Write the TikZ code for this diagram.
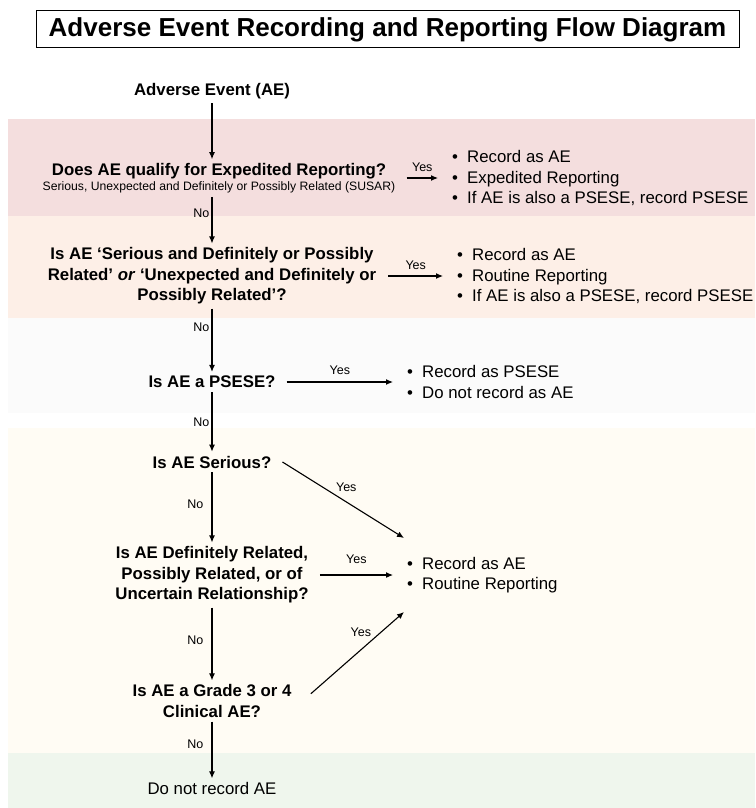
\documentclass[tikz,border=0pt]{standalone}
\usepackage{fontspec}
\setmainfont{Liberation Sans}
\usetikzlibrary{arrows.meta}
\definecolor{bandred}{RGB}{244,222,222}
\definecolor{bandorange}{RGB}{253,239,231}
\definecolor{bandgrey}{RGB}{251,251,251}
\definecolor{bandcream}{RGB}{255,252,244}
\definecolor{bandgreen}{RGB}{239,246,237}
\newcommand{\titlefont}{\fontsize{26}{30}\selectfont\bfseries}
\newcommand{\askfont}{\fontsize{16.8}{20.5}\selectfont\bfseries}
\newcommand{\outfont}{\fontsize{16.8}{20.5}\selectfont}
\newcommand{\subfont}{\fontsize{12.2}{14}\selectfont}
\newcommand{\tagfont}{\fontsize{12.5}{14}\selectfont}
\newcommand{\itm}{\makebox[15pt][l]{\textbullet}}

\begin{document}
\begin{tikzpicture}[x=1pt,y=-1pt,
  ask/.style={font=\askfont,align=center,inner xsep=11pt,inner ysep=4pt},
  result/.style={font=\outfont,align=left,anchor=west,inner xsep=14pt,inner ysep=2pt},
  tag/.style={font=\tagfont,inner sep=2pt},
  arr/.style={-{Latex[length=7pt,width=6pt]},line width=1.1pt}]
\useasboundingbox (0,0) rectangle (755,808);
\fill[bandred] (8,119) rectangle (755,216);
\fill[bandorange] (8,216) rectangle (755,318);
\fill[bandgrey] (8,318) rectangle (755,413);
\fill[bandcream] (8,428) rectangle (755,753);
\fill[bandgreen] (8,753) rectangle (755,808);

\node[draw,line width=1pt,minimum width=703pt,minimum height=37pt,font=\titlefont] (title) at (387.5,29.5) {Adverse Event Recording and Reporting Flow Diagram};

\node[ask] (ae) at (212,91) {Adverse Event (AE)};
\node[ask] (q1) at (219,178) {Does AE qualify for Expedited Reporting?\\[-6pt]{\subfont\mdseries Serious, Unexpected and Definitely or Possibly Related (SUSAR)}};
\node[result] (r1) at (438,178) {\itm Record as AE\\\itm Expedited Reporting\\\itm If AE is also a PSESE, record PSESE};
\node[ask,inner xsep=12pt] (q2) at (212,276) {Is AE ‘Serious and Definitely or Possibly\\Related’ \textit{or} ‘Unexpected and Definitely or\\Possibly Related’?};
\node[result] (r2) at (443,276) {\itm Record as AE\\\itm Routine Reporting\\\itm If AE is also a PSESE, record PSESE};
\node[ask] (q3) at (212,382) {Is AE a PSESE?};
\node[result] (r3) at (393,382) {\itm Record as PSESE\\\itm Do not record as AE};
\node[ask] (q4) at (212,462) {Is AE Serious?};
\node[ask] (q5) at (212,575) {Is AE Definitely Related,\\Possibly Related, or of\\Uncertain Relationship?};
\node[result] (r5) at (393,575) {\itm Record as AE\\\itm Routine Reporting};
\node[ask] (q6) at (212,701) {Is AE a Grade 3 or 4\\Clinical AE?};
\node[font=\outfont] (stop) at (212,788) {Do not record AE};
\coordinate (inA) at (404,538);
\coordinate (inB) at (404,612);

\draw[arr] (ae) -- (ae |- q1.north);
\draw[arr] (q1.east) -- node[tag,above=3.5pt] {Yes} (r1.west);
\draw[arr] (q1.south -| q2) -- node[tag,left,pos=0.35] {No} (q2);
\draw[arr] (q2.east) -- node[tag,above=3.5pt] {Yes} (r2.west);
\draw[arr] (q2) -- node[tag,left,pos=0.3] {No} (q3);
\draw[arr] (q3.east) -- node[tag,above=5pt] {Yes} (r3.west);
\draw[arr] (q3) -- node[tag,left,pos=0.5] {No} (q4);
\draw[arr] (q4.east) -- node[tag,above right,pos=0.42] {Yes} (inA);
\draw[arr] (q4) -- node[tag,left=6pt,pos=0.45] {No} (q5);
\draw[arr] (q5.east) -- node[tag,above=8.5pt] {Yes} (r5.west);
\draw[arr] (q5) -- node[tag,left=6pt,pos=0.45] {No} (q6);
\draw[arr,shorten <=11pt] (q6.east) -- node[tag,above left,pos=0.7] {Yes} (inB);
\draw[arr] (q6) -- node[tag,left=6pt,pos=0.4] {No} (stop);
\end{tikzpicture}
\end{document}
